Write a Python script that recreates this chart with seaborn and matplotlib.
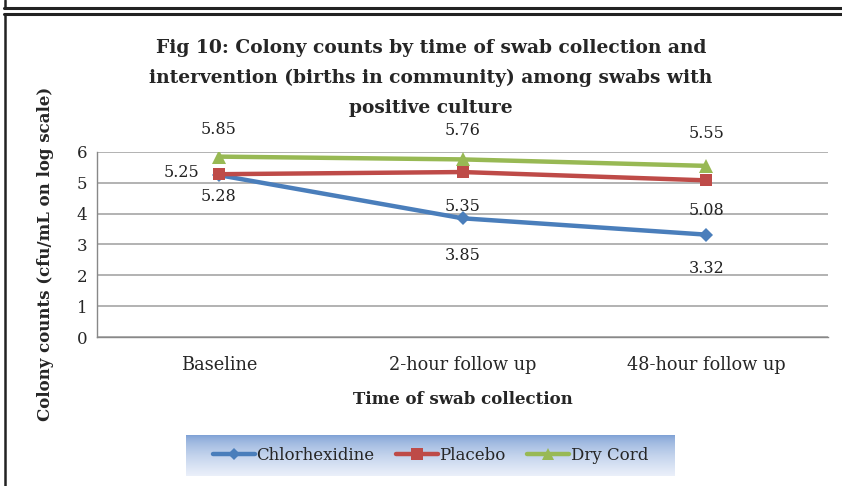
import numpy as np
import pandas as pd
import matplotlib
matplotlib.use("Agg")
import matplotlib.pyplot as plt
import seaborn as sns
from matplotlib.lines import Line2D

# Data
times = ["Baseline", "2-hour follow up", "48-hour follow up"]
chlorhexidine = [5.25, 3.85, 3.32]
placebo = [5.28, 5.35, 5.08]
dry_cord = [5.85, 5.76, 5.55]
groups = ["Chlorhexidine", "Placebo", "Dry Cord"]
y_ticks = [0, 1, 2, 3, 4, 5, 6]

colors = {"Chlorhexidine": "#4a7ebb", "Placebo": "#be4b48", "Dry Cord": "#98b954"}
markers = {"Chlorhexidine": "D", "Placebo": "s", "Dry Cord": "^"}
msizes = {"Chlorhexidine": 7, "Placebo": 9, "Dry Cord": 10}

df = pd.DataFrame({
    "time": times * 3,
    "value": chlorhexidine + placebo + dry_cord,
    "group": [g for g in groups for _ in times],
})
df["pos"] = df["time"].map({t: i for i, t in enumerate(times)})

sns.set_style("white")
plt.rcParams["font.family"] = ["DejaVu Serif"]

fig = plt.figure(figsize=(8.42, 4.86), dpi=100)
ax = fig.add_axes([97 / 842, 1 - 337 / 486, (828 - 97) / 842, (337 - 152) / 486])

for g in groups:
    sub = df[df["group"] == g]
    sns.lineplot(data=sub, x="pos", y="value", ax=ax, color=colors[g],
                 marker=markers[g], markersize=msizes[g], markeredgewidth=0,
                 linewidth=3.2, legend=False)

# data labels (offsets in pixels, mimic the Excel placement)
label_offsets = {
    "Chlorhexidine": [(-37, 3), (0, -37), (0, -34)],
    "Placebo": [(0, -22), (0, -34), (0, -30)],
    "Dry Cord": [(0, 27), (0, 29), (0, 32)],
}
for g in groups:
    sub = df[df["group"] == g].reset_index(drop=True)
    for i, row in sub.iterrows():
        dx, dy = label_offsets[g][i]
        ax.annotate(f"{row['value']:.2f}", (row["pos"], row["value"]),
                    xytext=(dx, dy), textcoords="offset pixels",
                    ha="center", va="center", fontsize=11.5, color="#222222")

ax.set_xlim(-0.5, 2.5)
ax.set_ylim(0, 6)
ax.set_yticks(y_ticks)
ax.set_xticks([0, 1, 2])
ax.set_xticklabels(times, fontsize=12.8)
ax.set_xticks([-0.5, 0.5, 1.5, 2.5], minor=True)
ax.tick_params(axis="x", which="major", length=0, pad=14)
ax.tick_params(axis="x", which="minor", length=5, direction="out", color="#888888")
ax.tick_params(axis="y", length=4, direction="out", color="#888888", labelsize=12, pad=3)
ax.yaxis.grid(True, color="#a6a6a6", linewidth=1.2)
ax.set_axisbelow(True)
for side in ["top", "right"]:
    ax.spines[side].set_visible(False)
for side in ["left", "bottom"]:
    ax.spines[side].set_color("#888888")
    ax.spines[side].set_linewidth(1.0)

ax.set_xlabel("Time of swab collection", fontsize=12, fontweight="bold", labelpad=12)
ax.set_ylabel("Colony counts (cfu/mL on log scale)", fontsize=12, fontweight="bold")
ax.yaxis.set_label_coords(-0.059, 0.45)

fig.text(431 / 842, 1 - 78 / 486,
         "Fig 10: Colony counts by time of swab collection and\n"
         "intervention (births in community) among swabs with\n"
         "positive culture",
         ha="center", va="center", fontsize=13.4, fontweight="bold", linespacing=1.82)

# legend with gradient background
lx0, lx1, ly0, ly1 = 186 / 842, 675 / 842, 1 - 476 / 486, 1 - 435 / 486
bg = fig.add_axes([lx0, ly0, lx1 - lx0, ly1 - ly0])
grad = np.linspace(0, 1, 64).reshape(-1, 1) ** 0.6
top_c = np.array([0.45, 0.60, 0.82])
bot_c = np.array([0.92, 0.94, 0.98])
img = top_c[None, None, :] * (1 - grad[..., None]) + bot_c[None, None, :] * grad[..., None]
bg.imshow(np.clip(img, 0, 1), aspect="auto", extent=[0, 1, 0, 1])
bg.axis("off")

handles = [Line2D([], [], color=colors[g], marker=markers[g], markersize=msizes[g] - 1,
                  markeredgewidth=0, linewidth=3.2) for g in groups]
fig.legend(handles, groups, loc="center", bbox_to_anchor=((lx0 + lx1) / 2, (ly0 + ly1) / 2),
           ncol=3, frameon=False, fontsize=12, handlelength=2.5, handletextpad=0.1,
           columnspacing=1.3)

# page frame lines
fig.add_artist(Line2D([4 / 842, 1], [1 - 8 / 486] * 2, color="#222222", lw=2.2))
fig.add_artist(Line2D([4 / 842, 1], [1 - 14 / 486] * 2, color="#222222", lw=2.2))
fig.add_artist(Line2D([5 / 842] * 2, [1 - 8 / 486, 1], color="#222222", lw=1.8))
fig.add_artist(Line2D([5 / 842] * 2, [0, 1 - 14 / 486], color="#222222", lw=1.8))

fig.savefig("out.png", dpi=100)
